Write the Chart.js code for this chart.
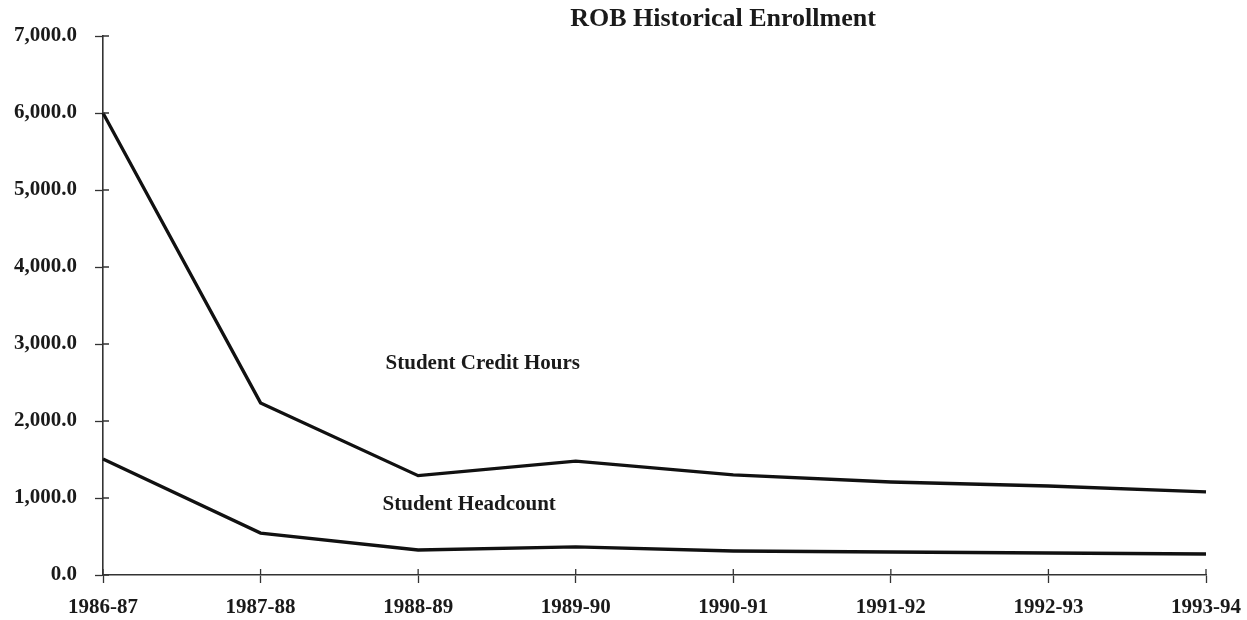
<!DOCTYPE html>
<html lang="en">
<head>
  <meta charset="UTF-8" />
  <title>ROB Historical Enrollment</title>
  <style>
    body {
      margin: 0;
      background: #fff;
    }
    #chart-container {
      position: relative;
      width: 1247px;
      height: 620px;
    }
  </style>
</head>
<body>
  <div id="chart-container">
    <canvas id="enrollChart"></canvas>
  </div>

  <script src="https://cdn.jsdelivr.net/npm/chart.js"></script>
  <script>
    // Data
    const years = ['1986-87', '1987-88', '1988-89', '1989-90', '1990-91', '1991-92', '1992-93', '1993-94'];
    const creditHours = [6000, 2235, 1290, 1480, 1300, 1208, 1156, 1080];
    const headcount = [1505, 545, 325, 364, 312, 299, 286, 273];
    const yTicks = [0, 1000, 2000, 3000, 4000, 5000, 6000, 7000];

    const chartTitle = 'ROB Historical Enrollment';
    const seriesNotes = ['Student Credit Hours', 'Student Headcount'];

    const serif = "'Liberation Serif', 'DejaVu Serif', serif";
    const ink = '#1a1a1a';

    // title + series notes + inner half of the tick marks
    const extras = {
      id: 'extras',
      afterDraw(chart) {
        const { ctx, chartArea, scales } = chart;
        const x = scales.x, y = scales.y;
        ctx.save();
        ctx.fillStyle = ink;
        ctx.textBaseline = 'middle';

        ctx.font = 'bold 26px ' + serif;
        ctx.textAlign = 'center';
        ctx.fillText(chartTitle, 723, 19);

        ctx.font = 'bold 21px ' + serif;
        ctx.textAlign = 'left';
        ctx.fillText(seriesNotes[0], x.getPixelForValue(1) + 125, y.getPixelForValue(2750));
        ctx.fillText(seriesNotes[1], x.getPixelForValue(1) + 122, y.getPixelForValue(910));

        ctx.strokeStyle = '#333';
        ctx.lineWidth = 1.3;
        ctx.beginPath();
        years.forEach((_, i) => {
          const px = x.getPixelForValue(i);
          ctx.moveTo(px, chartArea.bottom);
          ctx.lineTo(px, chartArea.bottom - 6);
        });
        yTicks.forEach(v => {
          const py = y.getPixelForValue(v);
          ctx.moveTo(chartArea.left, py);
          ctx.lineTo(chartArea.left + 6, py);
        });
        ctx.stroke();
        ctx.restore();
      }
    };

    const ctx = document.getElementById('enrollChart').getContext('2d');
    new Chart(ctx, {
      type: 'line',
      data: {
        labels: years,
        datasets: [
          {
            label: seriesNotes[0],
            data: creditHours,
            borderColor: '#111',
            borderWidth: 3.3,
            pointRadius: 0,
            tension: 0,
            fill: false
          },
          {
            label: seriesNotes[1],
            data: headcount,
            borderColor: '#111',
            borderWidth: 3.3,
            pointRadius: 0,
            tension: 0,
            fill: false
          }
        ]
      },
      plugins: [extras],
      options: {
        responsive: true,
        maintainAspectRatio: false,
        animation: false,
        layout: {
          padding: { top: 36, right: 41, bottom: 0, left: 0 }
        },
        plugins: {
          legend: { display: false },
          tooltip: { enabled: false },
          title: { display: false }
        },
        scales: {
          x: {
            offset: false,
            afterFit(scale) {
              scale.height = 45;
              scale.paddingLeft = 0;
              scale.paddingRight = 0;
            },
            grid: {
              display: true,
              drawOnChartArea: false,
              drawTicks: true,
              tickLength: 8,
              tickColor: '#333',
              tickWidth: 1.3
            },
            border: { display: true, color: '#333', width: 1.6 },
            ticks: {
              color: ink,
              padding: 12,
              maxRotation: 0,
              autoSkip: false,
              font: { family: serif, size: 21, weight: 'bold' }
            }
          },
          y: {
            min: 0,
            max: 7000,
            afterFit(scale) {
              scale.width = 103;
              scale.paddingTop = 0;
              scale.paddingBottom = 0;
            },
            afterBuildTicks(scale) {
              scale.ticks = yTicks.map(v => ({ value: v }));
            },
            grid: {
              display: true,
              drawOnChartArea: false,
              drawTicks: true,
              tickLength: 8,
              tickColor: '#333',
              tickWidth: 1.3
            },
            border: { display: true, color: '#333', width: 1.6 },
            ticks: {
              color: ink,
              padding: 18,
              font: { family: serif, size: 21, weight: 'bold' },
              callback: v => v.toLocaleString('en-US', { minimumFractionDigits: 1, maximumFractionDigits: 1 })
            }
          }
        }
      }
    });
  </script>
</body>
</html>
